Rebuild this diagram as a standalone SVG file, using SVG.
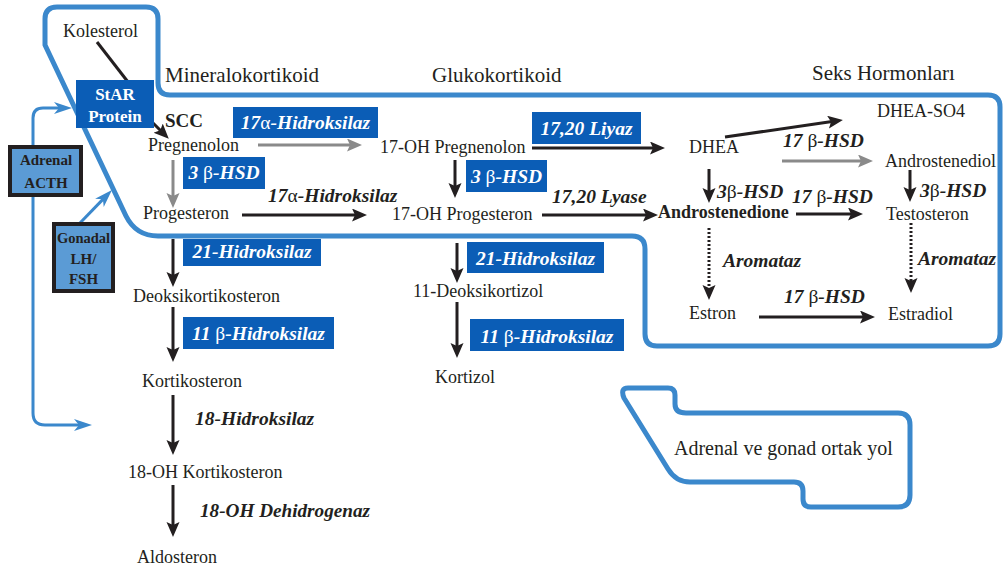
<svg xmlns="http://www.w3.org/2000/svg" width="1004" height="572" viewBox="0 0 1004 572">
<style>
.t{font-family:"Liberation Serif","Times New Roman",serif;font-size:18px;fill:#231f20}
.h{font-family:"Liberation Serif","Times New Roman",serif;font-size:21px;fill:#231f20}
.b{font-weight:bold}
.e{font-family:"Liberation Serif","Times New Roman",serif;font-size:19.5px;font-weight:bold;font-style:italic;fill:#231f20}
.w{fill:#ffffff}
.g{font-style:normal;font-weight:normal}
.box{fill:#0b5db6}
.lbox{fill:#5b9bd5;stroke:#231f20;stroke-width:4}
.sm{font-family:"Liberation Serif","Times New Roman",serif;font-size:15px;font-weight:bold;fill:#231f20;text-anchor:middle}
.outline{fill:none;stroke:#3b88cc;stroke-width:5;stroke-linejoin:round}
.a{fill:none;stroke:#231f20;stroke-width:3}
.ag{fill:none;stroke:#8a8a8a;stroke-width:3}
.ab{fill:none;stroke:#3b88cc;stroke-width:3}
.dot{stroke-dasharray:2 2}
</style>
<defs>
<marker id="mk" markerUnits="userSpaceOnUse" markerWidth="16" markerHeight="14" refX="4" refY="6.5" orient="auto"><path d="M0,0 L15,6.5 L0,13 L3,6.5 z" fill="#231f20"/></marker>
<marker id="mg" markerUnits="userSpaceOnUse" markerWidth="16" markerHeight="14" refX="4" refY="6.5" orient="auto"><path d="M0,0 L15,6.5 L0,13 L3,6.5 z" fill="#8a8a8a"/></marker>
<marker id="mb" markerUnits="userSpaceOnUse" markerWidth="19" markerHeight="13" refX="6" refY="6" orient="auto"><path d="M0,0 L18,6 L0,12 L5,6 z" fill="#3b88cc"/></marker>
</defs>
<rect width="1004" height="572" fill="#ffffff"/>

<g id="regions">
<path class="outline" d="M57,7 L146,7 Q158,7 158,19 L158,83 Q158,95 170,95 L988,95 Q1000,95 1000,107 L1000,334 Q1000,346 988,346 L657,346 Q645,346 645,334 L645,249 Q645,236 632,236 L158,236 Q136,236 126,216 L45,45 L45,19 Q45,7 57,7 Z"/>
<path class="outline" d="M628,388 L668,388 Q675,388 675,395 L675,404 Q675,413 686,413 L898,413 Q910,413 910,425 L910,495 Q910,507 898,507 L811,507 Q803,507 803,499 L803,491 Q803,482 794,482 L690,482 Q676,482 668,469 L624,398 Q620,388 628,388 Z"/>
<text class="h" x="165" y="82">Mineralokortikoid</text>
<text class="h" x="432" y="82">Glukokortikoid</text>
<text class="h" x="812" y="80">Seks Hormonları</text>
<text class="t" x="674" y="455" style="font-size:20px">Adrenal ve gonad ortak yol</text>
</g>

<g id="connectors">
<line class="a" x1="97" y1="42" x2="128" y2="82"/>
<line class="a" x1="150" y1="120" x2="161" y2="131" marker-end="url(#mk)"/>
<line class="ag" x1="258" y1="145" x2="351" y2="145" marker-end="url(#mg)"/>
<line class="ag" x1="173" y1="160" x2="173" y2="197" marker-end="url(#mg)"/>
<line class="a" x1="242" y1="215" x2="356" y2="215" marker-end="url(#mk)"/>
<line class="a" x1="532" y1="148" x2="654" y2="148" marker-end="url(#mk)"/>
<line class="a" x1="455" y1="160" x2="455" y2="187" marker-end="url(#mk)"/>
<line class="a" x1="542" y1="215" x2="647" y2="215" marker-end="url(#mk)"/>
<line class="a" x1="725" y1="137" x2="832" y2="121.6" marker-end="url(#mk)"/>
<line class="ag" x1="782" y1="161" x2="862" y2="161" marker-end="url(#mg)"/>
<line class="a" x1="709" y1="169" x2="709" y2="192" marker-end="url(#mk)"/>
<line class="a" x1="796" y1="214" x2="852" y2="214" marker-end="url(#mk)"/>
<line class="a" x1="910" y1="170" x2="910" y2="191" marker-end="url(#mk)"/>
<line class="a dot" x1="709" y1="228" x2="709" y2="289" marker-end="url(#mk)"/>
<line class="a dot" x1="911" y1="223" x2="911" y2="282" marker-end="url(#mk)"/>
<line class="a" x1="759" y1="317" x2="864" y2="317" marker-end="url(#mk)"/>
<line class="a" x1="173" y1="239" x2="173" y2="276" marker-end="url(#mk)"/>
<line class="a" x1="173" y1="307" x2="173" y2="351" marker-end="url(#mk)"/>
<line class="a" x1="173" y1="395" x2="173" y2="444" marker-end="url(#mk)"/>
<line class="a" x1="173" y1="485" x2="173" y2="526" marker-end="url(#mk)"/>
<line class="a" x1="457" y1="243" x2="457" y2="272" marker-end="url(#mk)"/>
<line class="a" x1="457" y1="302" x2="457" y2="347" marker-end="url(#mk)"/>
<path class="ab" d="M33,147 L33,118 Q33,108 43,108 L60,108" marker-end="url(#mb)"/>
<path class="ab" d="M33,197 L33,413 Q33,425 45,425 L80,425" marker-end="url(#mb)"/>
<line class="ab" x1="80" y1="223" x2="103.6" y2="198.6" marker-end="url(#mb)"/>
</g>

<g id="n-kolesterol"><text class="t" x="63" y="37">Kolesterol</text></g>
<g id="n-star"><rect class="box" x="76" y="80" width="78" height="48"/><text class="t b w" x="115" y="100" text-anchor="middle" style="font-size:17px">StAR</text><text class="t b w" x="115" y="122" text-anchor="middle" style="font-size:17px">Protein</text></g>
<g id="n-scc"><text class="t b" x="165" y="127" style="font-size:19px">SCC</text></g>
<g id="n-acth"><rect class="lbox" x="10" y="147" width="71" height="48"/><text class="sm" x="46" y="165">Adrenal</text><text class="sm" x="46" y="188">ACTH</text></g>
<g id="n-gonadal"><rect class="lbox" x="54" y="224" width="59" height="67"/><text class="sm" x="83.5" y="243" style="font-size:14.5px">Gonadal</text><text class="sm" x="83.5" y="264">LH/</text><text class="sm" x="83.5" y="284">FSH</text></g>

<g id="n-pregnenolon"><text class="t" x="148" y="151">Pregnenolon</text></g>
<g id="n-progesteron"><text class="t" x="143" y="219">Progesteron</text></g>
<g id="n-17ohpreg"><text class="t" x="380" y="153">17-OH Pregnenolon</text></g>
<g id="n-17ohprog"><text class="t" x="392" y="220">17-OH Progesteron</text></g>
<g id="n-dhea"><text class="t" x="689" y="153">DHEA</text></g>
<g id="n-dheaso4"><text class="t" x="877" y="117">DHEA-SO4</text></g>
<g id="n-androstenediol"><text class="t" x="885" y="167">Androstenediol</text></g>
<g id="n-androstenedione"><text class="t b" x="658" y="218">Androstenedione</text></g>
<g id="n-testosteron"><text class="t" x="886" y="220">Testosteron</text></g>
<g id="n-estron"><text class="t" x="689" y="319">Estron</text></g>
<g id="n-estradiol"><text class="t" x="888" y="320">Estradiol</text></g>
<g id="n-deoksikortikosteron"><text class="t" x="133" y="302">Deoksikortikosteron</text></g>
<g id="n-kortikosteron"><text class="t" x="142" y="387">Kortikosteron</text></g>
<g id="n-18oh"><text class="t" x="128" y="478">18-OH Kortikosteron</text></g>
<g id="n-aldosteron"><text class="t" x="137" y="563">Aldosteron</text></g>
<g id="n-11deoksikortizol"><text class="t" x="413" y="297">11-Deoksikortizol</text></g>
<g id="n-kortizol"><text class="t" x="435" y="383">Kortizol</text></g>

<g id="enzymes">
<g id="e1"><rect class="box" x="233" y="107" width="145" height="31"/><text class="e w" x="305.5" y="129" text-anchor="middle">17<tspan class="g">α</tspan>-Hidroksilaz</text></g>
<g id="e2"><rect class="box" x="183" y="157" width="82" height="32"/><text class="e w" x="224" y="179" text-anchor="middle">3 <tspan class="g">β</tspan>-HSD</text></g>
<g id="e3"><rect class="box" x="532" y="112" width="109" height="32"/><text class="e w" x="586.5" y="135" text-anchor="middle">17,20 Liyaz</text></g>
<g id="e4"><rect class="box" x="466" y="160" width="81" height="32"/><text class="e w" x="506.5" y="183" text-anchor="middle">3 <tspan class="g">β</tspan>-HSD</text></g>
<g id="e5"><rect class="box" x="183" y="239" width="138" height="27"/><text class="e w" x="252" y="258" text-anchor="middle">21-Hidroksilaz</text></g>
<g id="e6"><rect class="box" x="183" y="317" width="151" height="32"/><text class="e w" x="258.5" y="340" text-anchor="middle">11 <tspan class="g">β</tspan>-Hidroksilaz</text></g>
<g id="e7"><rect class="box" x="467" y="242" width="137" height="31"/><text class="e w" x="535.5" y="265" text-anchor="middle">21-Hidroksilaz</text></g>
<g id="e8"><rect class="box" x="470" y="319" width="154" height="32"/><text class="e w" x="547" y="343" text-anchor="middle">11 <tspan class="g">β</tspan>-Hidroksilaz</text></g>
<text class="e" x="268" y="202">17<tspan class="g">α</tspan>-Hidroksilaz</text>
<text class="e" x="552" y="203">17,20 Lyase</text>
<text class="e" x="783" y="147">17 <tspan class="g">β</tspan>-HSD</text>
<text class="e" x="717" y="198">3<tspan class="g">β</tspan>-HSD</text>
<text class="e" x="792" y="203">17 <tspan class="g">β</tspan>-HSD</text>
<text class="e" x="920" y="197">3<tspan class="g">β</tspan>-HSD</text>
<text class="e" x="723" y="267">Aromataz</text>
<text class="e" x="918" y="265">Aromataz</text>
<text class="e" x="784" y="303">17 <tspan class="g">β</tspan>-HSD</text>
<text class="e" x="195" y="425">18-Hidroksilaz</text>
<text class="e" x="200" y="517" textLength="170" lengthAdjust="spacingAndGlyphs" style="font-size:18.5px">18-OH Dehidrogenaz</text>
</g>
</svg>
